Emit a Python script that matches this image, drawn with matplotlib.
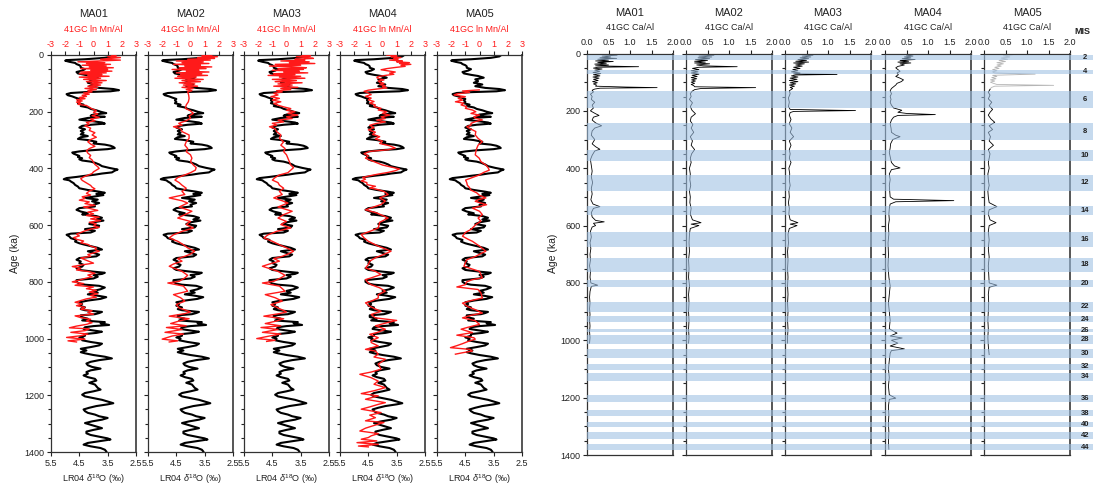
import matplotlib
matplotlib.use('Agg')
import matplotlib.pyplot as plt
from matplotlib.ticker import MultipleLocator

plt.rcParams['font.family'] = ['Liberation Sans', 'DejaVu Sans']
plt.rcParams['mathtext.fontset'] = 'custom'
plt.rcParams['mathtext.rm'] = 'Liberation Sans'
plt.rcParams['mathtext.it'] = 'Liberation Sans:italic'
plt.rcParams['axes.unicode_minus'] = False

cores = ['MA01', 'MA02', 'MA03', 'MA04', 'MA05']

# LR04 benthic stack (age ka, d18O permil)
lr04_age = [0, 5, 10, 15, 18, 20, 24, 28, 32, 36, 40, 45, 50, 55, 60, 65, 70, 74, 80, 86,
            92, 98, 104, 110, 116, 120, 124, 128, 131, 134, 138, 142, 146, 150, 155, 160, 165, 170, 175, 180,
            185, 190, 195, 200, 205, 210, 214, 218, 222, 228, 234, 238, 242, 246, 250, 256, 262, 268, 274, 280,
            286, 290, 296, 300, 306, 312, 316, 320, 324, 328, 332, 336, 340, 344, 348, 352, 356, 360, 364, 368,
            372, 376, 380, 386, 392, 398, 404, 408, 414, 418, 422, 426, 430, 434, 438, 442, 446, 452, 458, 464,
            470, 476, 482, 486, 490, 494, 498, 504, 510, 516, 522, 528, 534, 540, 546, 552, 558, 562, 568, 574,
            580, 584, 590, 596, 602, 608, 614, 620, 626, 630, 634, 640, 646, 652, 658, 664, 668, 674, 680, 686,
            692, 698, 704, 710, 716, 722, 728, 734, 740, 746, 752, 758, 764, 768, 772, 776, 782, 788, 794, 800,
            806, 810, 814, 820, 826, 832, 838, 844, 848, 854, 860, 866, 872, 878, 884, 890, 896, 900, 906, 910,
            914, 918, 924, 930, 936, 942, 946, 952, 956, 960, 966, 970, 976, 980, 984, 990, 996, 1000, 1006, 1012,
            1018, 1024, 1030, 1036, 1042, 1048, 1052, 1058, 1064, 1070, 1076, 1082, 1088, 1094, 1100, 1106, 1112, 1118, 1124, 1130,
            1136, 1142, 1148, 1156, 1162, 1168, 1174, 1180, 1186, 1192, 1198, 1204, 1210, 1216, 1222, 1228, 1232, 1238, 1244, 1250,
            1256, 1262, 1268, 1274, 1280, 1286, 1292, 1298, 1304, 1310, 1316, 1322, 1328, 1334, 1340, 1346, 1352, 1356, 1362, 1368,
            1374, 1380, 1386, 1392, 1398]
lr04_d18o = [3.23, 3.3, 3.6, 4.3, 4.95, 5.0, 4.85, 4.65, 4.6, 4.5, 4.45, 4.45, 4.3, 4.4, 4.6, 4.55, 4.3, 4.05, 3.85, 4.15,
             4.05, 4.2, 3.9, 4.15, 3.8, 3.3, 3.1, 3.4, 4.3, 4.8, 4.95, 4.9, 4.75, 4.65, 4.5, 4.55, 4.5, 4.55, 4.35, 4.45,
             4.2, 4.1, 3.9, 3.75, 3.55, 4.0, 4.1, 3.6, 4.2, 4.5, 4.0, 3.7, 3.6, 4.1, 4.4, 4.5, 4.3, 4.45, 4.35, 4.45,
             4.2, 4.45, 4.55, 4.2, 3.9, 4.0, 3.6, 3.4, 3.3, 3.25, 3.5, 4.1, 4.5, 4.75, 4.7, 4.6, 4.5, 4.55, 4.4, 4.5,
             4.4, 4.1, 3.95, 3.8, 3.7, 3.45, 3.15, 3.25, 3.35, 3.7, 3.95, 4.3, 4.6, 4.95, 5.05, 4.85, 4.8, 4.7, 4.65, 4.55,
             4.5, 4.2, 3.8, 3.6, 3.9, 3.65, 3.9, 4.3, 3.85, 4.05, 3.8, 4.0, 3.95, 4.5, 4.6, 4.45, 4.2, 4.4, 3.9, 3.7,
             3.9, 3.65, 4.0, 4.15, 3.8, 3.85, 4.3, 3.95, 4.1, 4.8, 4.95, 4.85, 4.8, 4.6, 4.65, 4.5, 4.35, 4.1, 3.85, 3.7,
             4.2, 4.0, 3.8, 3.9, 4.5, 4.6, 4.45, 4.5, 4.35, 4.4, 4.6, 4.5, 4.0, 3.6, 3.7, 4.0, 3.85, 4.0, 4.6, 4.6,
             4.5, 4.3, 3.8, 3.6, 3.75, 4.0, 3.85, 4.2, 3.9, 3.55, 3.75, 4.2, 4.5, 4.4, 4.5, 4.3, 4.45, 4.3, 3.7, 3.8,
             3.95, 4.45, 4.45, 4.2, 4.4, 3.6, 3.75, 3.45, 4.0, 4.3, 4.35, 4.1, 3.7, 3.9, 4.3, 4.3, 4.5, 4.35, 4.4, 4.1,
             3.7, 3.8, 4.1, 4.45, 4.25, 4.45, 4.3, 4.0, 3.6, 3.35, 3.8, 4.1, 4.25, 4.2, 4.05, 3.75, 4.1, 4.25, 4.2, 4.35,
             4.2, 3.95, 3.9, 4.15, 3.95, 3.9, 3.85, 3.75, 4.0, 4.3, 4.4, 4.3, 4.0, 3.7, 3.5, 3.3, 3.5, 3.9, 4.15, 4.35,
             4.3, 4.2, 3.95, 3.8, 3.5, 3.7, 4.05, 4.3, 4.1, 3.9, 3.7, 4.0, 4.25, 4.25, 4.1, 3.8, 3.5, 3.4, 3.8, 4.2,
             4.35, 4.1, 3.75, 3.6, 3.55]

# 41GC ln Mn/Al
ma01_mn_age = [0, 3, 6, 9, 12, 15, 18, 21, 24, 27, 30, 33, 36, 39, 42, 45, 48, 51, 54, 57,
               60, 63, 66, 69, 72, 75, 78, 82, 86, 90, 94, 98, 102, 106, 110, 114, 118, 122, 126, 130,
               134, 138, 142, 146, 150, 154, 158, 162, 166, 170, 174, 178, 184, 190, 196, 202, 208, 214, 220, 226,
               232, 238, 244, 250, 258, 266, 274, 282, 290, 298, 306, 314, 322, 330, 338, 346, 354, 362, 370, 378,
               386, 394, 400, 406, 412, 418, 424, 430, 436, 442, 448, 454, 460, 466, 472, 480, 488, 494, 500, 506,
               512, 518, 524, 530, 536, 542, 548, 554, 560, 566, 572, 578, 584, 590, 596, 602, 608, 614, 620, 626,
               632, 638, 644, 650, 656, 662, 668, 674, 680, 686, 692, 698, 704, 710, 716, 722, 728, 734, 740, 746,
               752, 758, 764, 770, 776, 782, 788, 794, 800, 806, 812, 818, 824, 830, 836, 842, 848, 854, 860, 866,
               872, 878, 884, 890, 896, 902, 908, 914, 920, 926, 932, 938, 944, 950, 956, 962, 966, 972, 978, 984,
               990, 996, 1002, 1008, 1012]
ma01_mn = [1.3, 1.6, 1.0, 1.9, 1.2, 0.5, 1.9, 0.3, -1.1, 0.8, -0.5, 1.2, -0.8, 0.9, -0.3, 1.4, -0.9, 1.0, -0.2, 1.3,
           -0.9, 0.9, -1.0, 0.6, -0.4, 1.1, -1.0, 0.5, -0.7, 0.9, -0.5, 0.6, -0.2, 0.5, -0.4, 0.3, -0.6, 0.2, -0.4, -0.1,
           -0.7, -0.3, -0.8, -0.5, -1.0, -0.6, -1.2, -0.8, -1.2, -0.9, -1.1, -0.5, -0.3, -0.1, 0.2, 0.0, 0.3, -0.1, 0.4, -0.2,
           0.1, -0.5, -0.3, -0.6, -0.2, -0.3, 0.1, -0.1, 0.2, -0.2, -0.4, -0.2, 0.1, -0.3, -0.5, -0.4, -0.2, -0.3, -0.1, 0.0,
           0.1, 0.3, 0.4, 0.2, 0.0, -0.1, -0.4, -0.7, -0.9, -0.8, -0.6, -0.4, -0.2, -0.1, 0.1, -0.3, -0.5, -0.2, -0.8, -0.6,
           -1.0, -0.3, -0.6, 0.1, -0.7, -0.2, 0.3, -0.4, 0.0, -0.5, 0.4, -0.2, 0.5, -0.3, 0.2, 0.0, 0.4, -0.2, -0.6, -0.9,
           -1.2, -1.0, -1.4, -1.2, -0.7, -0.9, -0.4, -0.2, 0.2, 0.1, 0.4, 0.0, -0.4, -0.2, -0.9, -0.6, -0.3, 0.0, -0.8, -1.5,
           -0.9, -1.2, -0.3, 0.1, -0.4, -0.1, -0.6, -1.0, -1.5, -0.7, -1.3, 0.0, -0.5, 0.2, -0.3, 0.3, -0.2, 0.2, -0.5, -0.9,
           -1.3, -0.8, -1.2, -0.6, -0.9, -0.1, -0.4, 0.0, -1.3, -0.9, -0.2, -0.5, -0.1, -0.5, -1.2, -1.7, -0.3, -0.6, -1.6, -0.4,
           -0.9, -1.9, -0.6, -1.8, -1.2]

ma02_mn_age = [0, 3, 6, 9, 12, 15, 18, 21, 24, 27, 30, 33, 36, 39, 42, 45, 48, 51, 54, 57,
               60, 63, 66, 69, 72, 75, 78, 82, 86, 90, 94, 98, 102, 106, 110, 114, 118, 122, 126, 130,
               141, 153, 165, 176, 188, 197, 206, 215, 223, 232, 241, 247, 253, 260, 270, 282, 294, 306, 318, 330,
               341, 352, 364, 376, 388, 397, 406, 415, 423, 432, 441, 450, 459, 470, 481, 492, 504, 514, 522, 536,
               551, 563, 575, 587, 598, 610, 622, 634, 645, 657, 669, 680, 692, 702, 710, 718, 727, 737, 745, 755,
               763, 777, 786, 798, 804, 815, 833, 845, 856, 868, 880, 892, 906, 912, 921, 930, 938, 947, 955, 961,
               968, 978, 984, 991, 1002, 1008, 1012]
ma02_mn = [1.5, 0.8, 1.9, 0.5, 1.7, -0.2, 1.4, -1.0, 0.9, -0.6, 1.3, -1.2, 0.7, -0.4, 1.5, -0.8, 1.1, -1.3, 0.6, -0.3,
           1.3, -1.0, 0.8, -0.7, 1.2, -0.9, 0.4, -1.1, 0.9, -0.6, 0.7, -0.8, 0.3, -0.5, 0.5, -0.6, 0.2, -0.3, 0.1, -0.2,
           -0.13, -0.1, -0.15, -0.3, -0.36, 0.0, 0.2, -0.1, 0.0, -0.3, -0.83, -0.6, -1.2, -0.7, -0.6, -0.1, -0.1, -0.3, -0.4, -0.2,
           -0.3, 0.0, 0.1, 0.0, 0.2, 0.4, 0.34, 0.0, -0.4, -0.9, -1.1, -0.8, -0.6, -0.3, -0.6, -0.4, -1.5, -0.6, -0.2, -0.8,
           0.1, -0.4, -0.9, 0.0, -0.3, 0.2, -0.6, -1.2, -1.5, -0.9, -0.5, -0.2, 0.3, 0.0, -0.4, -0.9, -0.6, -1.2, -1.5, -1.0,
           -0.6, -0.2, -0.4, -0.8, -1.6, -0.5, -0.2, -1.2, -0.7, -0.4, -1.0, -0.8, 0.0, -0.4, -1.5, -0.1, -0.8, -1.4, -0.3, -1.7,
           -0.6, -1.8, -0.5, -1.3, -2.0, -0.9, -1.5]

ma03_mn_age = [0, 3, 6, 9, 12, 15, 18, 21, 24, 27, 30, 33, 36, 39, 42, 45, 48, 51, 54, 57,
               60, 63, 66, 69, 72, 75, 78, 82, 86, 90, 94, 98, 102, 106, 110, 114, 118, 122, 126, 130,
               135, 141, 147, 153, 159, 165, 171, 177, 183, 189, 195, 200, 206, 212, 218, 224, 230, 236, 241, 247,
               253, 260, 270, 282, 294, 306, 318, 330, 341, 352, 364, 376, 388, 397, 406, 415, 423, 432, 441, 450,
               459, 470, 481, 492, 504, 514, 522, 536, 551, 563, 575, 587, 598, 610, 622, 634, 645, 657, 669, 680,
               692, 702, 710, 718, 727, 737, 745, 755, 763, 777, 786, 798, 804, 815, 833, 845, 856, 868, 880, 892,
               906, 912, 921, 930, 938, 947, 955, 961, 968, 978, 984, 991, 1000, 1006, 1010]
ma03_mn = [1.1, 1.7, 0.7, 1.4, 1.9, 0.6, 1.3, -0.4, 1.6, 0.2, 2.0, -0.8, 1.0, -1.2, 0.5, 1.4, -0.6, 1.2, -1.0, 0.9,
           -0.2, 1.5, -0.9, 0.6, -1.3, 1.0, -0.5, 1.3, -1.0, 0.7, -0.8, 1.1, -0.6, 0.4, -0.9, 0.8, -0.4, 0.3, -0.7, -0.3,
           -0.9, -0.6, -1.1, -0.5, -1.0, -0.4, -0.9, -0.6, -0.2, 0.3, 0.0, 0.6, 0.1, 0.8, 0.0, 0.4, -0.6, -0.2, -1.0, -0.7,
           -1.2, -0.8, -0.7, -0.4, -0.5, -0.2, -0.4, -0.1, -0.2, 0.0, 0.1, 0.2, 0.3, 0.5, 0.3, 0.1, -0.5, -0.8, -1.0, -0.6,
           -0.5, -0.2, -0.5, -0.3, -0.9, -0.3, 0.1, -0.6, 0.4, -0.2, -0.6, 0.0, -0.4, 0.3, -0.7, -1.3, -1.6, -1.0, -0.5, 0.0,
           0.5, 0.1, -0.3, -0.9, -0.5, -1.2, -1.7, -1.1, -0.6, -0.1, -0.4, -0.9, -1.7, -0.5, -0.1, -1.5, -0.8, -0.3, -1.1, -0.6,
           0.0, -0.5, -1.6, -0.2, -0.7, -1.5, -0.4, -1.8, -0.6, -1.7, -0.4, -1.2, -2.1, -0.8, -1.4]

ma04_mn_age = [0, 3, 6, 9, 12, 15, 18, 21, 24, 27, 30, 33, 36, 40, 44, 48, 52, 56, 60, 64,
               68, 72, 76, 80, 84, 88, 92, 96, 100, 104, 108, 112, 116, 120, 124, 128, 134, 140, 146, 152,
               158, 164, 170, 176, 182, 188, 194, 200, 206, 212, 218, 224, 230, 236, 242, 248, 256, 264, 272, 280,
               288, 296, 304, 312, 320, 328, 334, 340, 348, 356, 364, 372, 380, 388, 396, 402, 408, 414, 420, 426,
               432, 438, 444, 450, 457, 463, 469, 475, 481, 492, 504, 515, 527, 539, 546, 557, 575, 590, 610, 622,
               633, 645, 657, 674, 686, 692, 703, 715, 727, 739, 751, 763, 774, 786, 792, 804, 810, 821, 833, 845,
               857, 868, 874, 886, 898, 904, 915, 927, 936, 943, 955, 967, 979, 985, 997, 1008, 1014, 1026, 1038, 1044,
               1055, 1065, 1073, 1090, 1108, 1118, 1126, 1138, 1150, 1161, 1173, 1184, 1194, 1202, 1214, 1226, 1232, 1241, 1249, 1261,
               1270, 1279, 1290, 1296, 1308, 1316, 1326, 1335, 1343, 1349, 1355, 1361, 1367, 1373, 1379, 1382]
ma04_mn = [0.3, 1.0, 0.6, 1.3, 0.8, 1.1, 0.5, 1.4, 1.0, 1.9, 1.2, 2.0, 1.3, 1.6, 0.9, 0.3, -0.1, 0.4, 0.9, 0.5,
           0.8, 0.2, -0.3, -0.4, -0.2, 0.1, -0.3, -0.2, 0.1, -0.2, 0.2, 0.0, 0.3, -0.4, -1.0, -1.3, -1.0, -0.8, -1.2, -0.8,
           -1.0, -0.6, -0.9, -0.5, -0.6, -0.1, -0.3, 0.3, 0.0, 0.5, -0.1, 0.2, -0.4, 0.2, -0.5, -0.9, -0.6, -1.0, -0.5, -0.7,
           -0.2, -0.5, 0.0, -0.2, 0.5, 0.9, 0.4, -0.9, -1.3, -1.0, -1.2, -0.8, -0.4, 0.0, 0.7, 1.2, 0.9, 0.4, -0.3, -0.9,
           -1.4, -1.2, -1.5, -1.1, -1.1, -0.5, -0.9, -0.3, 0.1, 0.4, -0.2, 0.2, -0.1, -0.8, -1.2, -0.4, 0.4, -0.2, -0.3, -0.9,
           -1.5, -1.3, -1.0, -0.3, 0.3, 0.6, 0.1, -0.5, -0.9, -1.0, -1.2, -0.5, -0.1, -0.8, -1.2, -1.0, -0.8, -0.2, 0.2, -0.3,
           -0.3, -0.8, -1.2, -0.9, -0.4, -0.1, -0.8, -0.5, 1.0, 0.4, -0.5, 0.2, -0.4, -0.9, -0.3, -0.8, -0.8, -0.3, -1.2, -0.5,
           -0.3, -0.6, 0.2, -0.3, -0.1, -0.8, -1.6, -0.8, -0.3, -0.6, 0.2, -0.6, -1.5, -0.3, -1.2, 0.2, -0.3, -0.9, -1.5, -0.1,
           -0.9, -0.5, -1.2, 0.1, -0.7, -1.2, -1.6, -0.3, -0.8, -1.0, -1.5, -0.4, -1.8, -0.3, -1.7, -1.0]

ma05_mn_age = [123, 127, 132, 137, 141, 147, 153, 159, 165, 170, 176, 182, 188, 194, 200, 206, 212, 218, 223, 229,
               235, 241, 247, 253, 259, 270, 282, 294, 306, 318, 330, 341, 352, 364, 376, 388, 397, 406, 414, 423,
               432, 441, 450, 459, 468, 476, 486, 495, 504, 510, 516, 528, 540, 551, 563, 575, 586, 598, 615, 626,
               639, 650, 657, 674, 686, 692, 700, 710, 722, 733, 745, 755, 763, 775, 786, 792, 800, 810, 818, 827,
               839, 857, 866, 875, 888, 898, 910, 918, 927, 937, 950, 960, 967, 979, 988, 997, 1002, 1010, 1018, 1025,
               1032, 1038, 1044, 1050, 1055]
ma05_mn = [-0.02, -1.2, -0.7, -1.6, -1.8, -1.0, -1.5, -1.2, -1.7, -1.1, -1.3, -0.9, -1.0, -0.5, -0.26, -0.6, 0.0, -0.4, -0.3, 0.2,
           -0.3, -0.6, -0.6, -0.9, -0.7, -0.26, -0.3, -0.1, 0.2, -0.1, -0.2, -0.26, -0.3, -0.02, 0.1, 0.45, 0.6, 0.69, 0.3, -0.02,
           -0.5, -0.98, -0.9, -0.86, -0.7, -0.62, -0.2, 0.0, 0.45, -0.1, -0.3, 0.5, -0.5, 0.0, 0.2, -0.1, 0.1, -0.26, -0.6, -1.0,
           -1.2, -0.8, -0.5, 0.0, 0.3, 0.45, 0.1, -0.26, -0.9, -1.0, -1.1, -0.5, 0.0, 0.1, 0.2, -0.5, -0.9, -1.0, -1.6, -0.1,
           0.1, 0.2, -0.6, -1.2, -0.8, -0.3, 0.2, -0.6, -1.2, -0.3, 0.0, -0.8, -1.3, -0.5, -1.6, -0.4, -0.3, -0.8, -1.2, -1.6,
           -2.05, -0.7, -0.5, -1.2, -1.7]

# 41GC Ca/Al
ma01_ca_age = [0, 3, 6, 9, 12, 15, 17, 20, 23, 26, 28, 31, 34, 37, 40, 43, 46, 48, 51, 54,
               58, 62, 66, 70, 74, 78, 82, 86, 90, 94, 98, 102, 106, 110, 114, 117, 119, 121, 124, 128,
               134, 142, 150, 160, 170, 180, 190, 200, 210, 216, 222, 232, 242, 252, 260, 270, 285, 300, 315, 325,
               334, 340, 355, 370, 390, 410, 430, 450, 470, 490, 510, 525, 534, 540, 555, 570, 582, 587, 592, 600,
               605, 620, 640, 660, 680, 700, 720, 740, 760, 780, 800, 808, 812, 830, 850, 870, 890, 910, 930, 950,
               970, 990, 1010]
ma01_ca = [0.6, 0.45, 0.7, 0.35, 0.55, 0.3, 0.69, 0.25, 0.5, 0.2, 0.61, 0.25, 0.45, 0.18, 0.5, 0.2, 1.2, 0.25, 0.15, 0.35,
           0.18, 0.3, 0.14, 0.32, 0.15, 0.3, 0.14, 0.28, 0.15, 0.26, 0.13, 0.24, 0.15, 0.22, 0.2, 0.9, 1.63, 0.3, 0.18, 0.12,
           0.15, 0.08, 0.12, 0.1, 0.18, 0.12, 0.15, 0.08, 0.2, 0.28, 0.15, 0.12, 0.2, 0.34, 0.18, 0.12, 0.1, 0.18, 0.12, 0.2,
           0.3, 0.18, 0.12, 0.08, 0.1, 0.12, 0.1, 0.13, 0.1, 0.12, 0.09, 0.14, 0.3, 0.15, 0.1, 0.12, 0.2, 0.4, 0.15, 0.2,
           0.12, 0.08, 0.1, 0.07, 0.09, 0.07, 0.08, 0.06, 0.08, 0.07, 0.09, 0.25, 0.1, 0.07, 0.06, 0.07, 0.06, 0.07, 0.06, 0.07,
           0.06, 0.07, 0.06]

ma02_ca_age = [0, 3, 6, 9, 12, 15, 18, 21, 24, 27, 30, 33, 36, 40, 43, 46, 48, 52, 56, 60,
               64, 68, 72, 76, 80, 84, 88, 92, 96, 100, 104, 108, 112, 116, 119, 122, 126, 132, 140, 150,
               160, 172, 185, 198, 210, 222, 235, 248, 260, 275, 290, 305, 320, 335, 350, 365, 380, 400, 420, 440,
               460, 480, 500, 520, 540, 560, 580, 590, 595, 600, 610, 630, 660, 690, 720, 750, 780, 810, 840, 870,
               900, 930, 960, 990, 1010]
ma02_ca = [0.55, 0.4, 0.65, 0.3, 0.6, 0.28, 0.55, 0.22, 0.5, 0.2, 0.45, 0.2, 0.55, 0.25, 0.4, 1.19, 0.3, 0.15, 0.3, 0.12,
           0.28, 0.12, 0.3, 0.14, 0.26, 0.12, 0.25, 0.13, 0.22, 0.12, 0.2, 0.12, 0.18, 0.2, 1.62, 0.35, 0.2, 0.14, 0.1, 0.12,
           0.08, 0.15, 0.1, 0.14, 0.22, 0.12, 0.1, 0.16, 0.12, 0.18, 0.1, 0.15, 0.12, 0.2, 0.13, 0.1, 0.12, 0.08, 0.1, 0.09,
           0.11, 0.08, 0.1, 0.09, 0.12, 0.1, 0.15, 0.35, 0.12, 0.3, 0.1, 0.08, 0.07, 0.08, 0.06, 0.07, 0.06, 0.08, 0.06, 0.07,
           0.06, 0.07, 0.06, 0.07, 0.06]

ma03_ca_age = [0, 3, 6, 9, 12, 15, 18, 21, 24, 27, 30, 33, 36, 40, 44, 48, 52, 56, 60, 64,
               68, 71, 73, 75, 78, 82, 86, 90, 94, 98, 102, 106, 110, 114, 118, 122, 130, 140, 155, 170,
               185, 195, 199, 202, 206, 215, 230, 245, 260, 275, 290, 305, 320, 335, 350, 365, 380, 400, 420, 440,
               460, 480, 500, 520, 540, 560, 580, 590, 595, 600, 610, 630, 660, 690, 720, 750, 780, 810, 840, 870,
               900, 930, 960, 990, 1010]
ma03_ca = [0.7, 0.5, 0.65, 0.4, 0.6, 0.35, 0.55, 0.3, 0.5, 0.25, 0.55, 0.2, 0.45, 0.25, 0.4, 0.2, 0.35, 0.18, 0.3, 0.15,
           0.35, 0.2, 1.21, 0.25, 0.15, 0.3, 0.12, 0.28, 0.1, 0.3, 0.12, 0.25, 0.1, 0.22, 0.12, 0.18, 0.1, 0.12, 0.08, 0.1,
           0.08, 0.12, 1.64, 0.2, 0.12, 0.1, 0.14, 0.1, 0.16, 0.12, 0.2, 0.1, 0.14, 0.1, 0.12, 0.1, 0.14, 0.09, 0.11, 0.1,
           0.12, 0.09, 0.1, 0.08, 0.1, 0.09, 0.12, 0.3, 0.12, 0.28, 0.1, 0.07, 0.08, 0.06, 0.07, 0.06, 0.07, 0.06, 0.07, 0.06,
           0.07, 0.06, 0.07, 0.06, 0.06]

ma04_ca_age = [0, 3, 6, 9, 12, 15, 18, 21, 24, 27, 30, 33, 36, 40, 45, 50, 56, 62, 68, 74,
               80, 86, 92, 98, 104, 110, 116, 122, 130, 140, 150, 160, 170, 180, 190, 198, 205, 209, 213, 216,
               222, 232, 245, 260, 275, 285, 290, 300, 315, 330, 345, 360, 380, 392, 399, 405, 420, 440, 460, 480,
               500, 508, 513, 517, 525, 540, 560, 580, 600, 630, 660, 700, 740, 780, 810, 840, 870, 900, 930, 960,
               975, 985, 992, 1000, 1010, 1020, 1030, 1036, 1045, 1070, 1100, 1130, 1160, 1190, 1202, 1206, 1230, 1260, 1290, 1320,
               1350, 1380]
ma04_ca = [0.55, 0.74, 0.5, 0.65, 0.45, 0.6, 0.4, 0.7, 0.35, 0.55, 0.3, 0.6, 0.35, 0.45, 0.3, 0.25, 0.3, 0.35, 0.28, 0.31,
           0.25, 0.35, 0.43, 0.38, 0.28, 0.25, 0.2, 0.15, 0.12, 0.15, 0.12, 0.14, 0.12, 0.15, 0.2, 0.39, 0.3, 0.5, 1.17, 0.3,
           0.2, 0.15, 0.12, 0.14, 0.15, 0.25, 0.35, 0.18, 0.13, 0.12, 0.1, 0.12, 0.15, 0.22, 0.35, 0.15, 0.1, 0.12, 0.1, 0.11,
           0.12, 0.2, 1.6, 0.25, 0.12, 0.1, 0.09, 0.1, 0.08, 0.09, 0.07, 0.08, 0.07, 0.09, 0.12, 0.1, 0.08, 0.1, 0.12, 0.1,
           0.28, 0.12, 0.4, 0.15, 0.3, 0.12, 0.45, 0.15, 0.12, 0.1, 0.08, 0.1, 0.08, 0.1, 0.25, 0.1, 0.08, 0.09, 0.08, 0.09,
           0.08, 0.09]

ma05_ca_top_age = [0, 4, 8, 12, 16, 20, 24, 28, 32, 36, 40, 44, 48, 52, 56, 60, 64, 68, 72, 76,
                   80, 84, 88, 92, 96, 100, 104, 108, 111, 114, 118, 122, 125]
ma05_ca_top = [0.55, 0.68, 0.45, 0.6, 0.4, 0.55, 0.35, 0.5, 0.3, 0.45, 0.3, 0.4, 0.25, 0.35, 0.2, 0.3, 0.2, 0.25, 1.19, 0.2,
               0.3, 0.18, 0.28, 0.15, 0.25, 0.15, 0.22, 0.3, 1.62, 0.25, 0.18, 0.15, 0.14]
ma05_ca_age = [125, 135, 145, 158, 170, 182, 195, 205, 215, 228, 240, 252, 265, 275, 290, 305, 320, 335, 350, 365,
               380, 400, 420, 440, 460, 480, 500, 520, 534, 545, 560, 580, 590, 600, 620, 650, 680, 710, 740, 770,
               800, 808, 815, 840, 870, 900, 930, 960, 990, 1020, 1050]
ma05_ca = [0.14, 0.1, 0.14, 0.1, 0.18, 0.12, 0.2, 0.14, 0.1, 0.16, 0.25, 0.12, 0.2, 0.1, 0.15, 0.12, 0.22, 0.1, 0.14, 0.12,
           0.1, 0.12, 0.09, 0.1, 0.12, 0.09, 0.1, 0.12, 0.3, 0.12, 0.1, 0.14, 0.28, 0.12, 0.1, 0.12, 0.1, 0.12, 0.1, 0.11,
           0.12, 0.3, 0.12, 0.1, 0.11, 0.1, 0.09, 0.1, 0.09, 0.1, 0.12]

mn_ages = [ma01_mn_age, ma02_mn_age, ma03_mn_age, ma04_mn_age, ma05_mn_age]
mn_vals = [ma01_mn, ma02_mn, ma03_mn, ma04_mn, ma05_mn]
ca_ages = [ma01_ca_age, ma02_ca_age, ma03_ca_age, ma04_ca_age, ma05_ca_age]
ca_vals = [ma01_ca, ma02_ca, ma03_ca, ma04_ca, ma05_ca]

# glacial marine isotope stages (ka)
mis_num = [2, 4, 6, 8, 10, 12, 14, 16, 18, 20, 22, 24, 26, 28, 30, 32, 34, 36, 38, 40, 42, 44]
mis_start = [6, 57, 130, 243, 337, 424, 533, 621, 712, 790, 866, 917, 959, 982, 1031, 1081, 1114, 1190, 1244, 1286, 1320, 1362]
mis_end = [24, 71, 191, 300, 374, 478, 563, 676, 761, 814, 900, 936, 970, 1014, 1062, 1104, 1141, 1215, 1264, 1304, 1343, 1383]

W, H = 1093, 487
fig = plt.figure(figsize=(W / 100, H / 100), dpi=100)


def box(x0, y0, w, y1):
    return [x0 / W, 1 - y1 / H, w / W, (y1 - y0) / H]


tick_c = '#222222'
spine_c = '#333333'
red = '#ff1a1a'

left_x = [51, 148, 244, 340, 437]
right_x = [587, 686, 785, 885, 984]

# left group: LR04 vs ln Mn/Al
for i, name in enumerate(cores):
    ax = fig.add_axes(box(left_x[i], 55, 85, 452))
    ax.plot(lr04_d18o, lr04_age, color='black', lw=1.5, zorder=2)
    ax.set_xlim(5.5, 2.5)
    ax.set_ylim(1400, 0)
    ax.set_xticks([5.5, 4.5, 3.5, 2.5])
    ax.set_xticklabels(['5.5', '4.5', '3.5', '2.5'])
    ax.yaxis.set_major_locator(MultipleLocator(200))
    ax.yaxis.set_minor_locator(MultipleLocator(50))
    ax.tick_params(axis='both', labelsize=6.5, colors=tick_c, width=0.8, length=3, pad=2)
    ax.tick_params(axis='y', which='minor', length=2, width=0.8, colors=tick_c)
    if i > 0:
        ax.tick_params(axis='y', labelleft=False)
    ax.set_xlabel(r'LR04 $\delta^{18}$O (‰)', fontsize=6.5, color=tick_c, labelpad=3)
    for s in ax.spines.values():
        s.set_color(spine_c)
        s.set_linewidth(0.9)
    ax.spines['right'].set_linewidth(1.4)
    ax.spines['right'].set_color('#555555')

    tw = ax.twiny()
    tw.plot(mn_vals[i], mn_ages[i], color=red, lw=1.0, zorder=3)
    tw.set_xlim(-3, 3)
    tw.set_ylim(1400, 0)
    tw.set_xticks([-3, -2, -1, 0, 1, 2, 3])
    tw.tick_params(axis='x', labelsize=6.5, labelcolor=red, colors=tick_c, width=0.8, length=3, pad=1.5)
    for s in tw.spines.values():
        s.set_visible(False)

    cx = (left_x[i] + 42.5) / W
    fig.text(cx, 1 - 14 / H, name, ha='center', va='center', fontsize=8, color='#222222')
    fig.text(cx, 1 - 30 / H, '41GC ln Mn/Al', ha='center', va='center', fontsize=6.5, color=red)

fig.text(15 / W, 1 - 253 / H, 'Age (ka)', rotation=90, ha='center', va='center', fontsize=7.5, color=tick_c)

# right group: Ca/Al
for i, name in enumerate(cores):
    ax = fig.add_axes(box(right_x[i], 53.5, 86, 455))
    if i == 4:
        ax.plot(ma05_ca_top, ma05_ca_top_age, color='#b5b5b5', lw=0.6)
    ax.plot(ca_vals[i], ca_ages[i], color='black', lw=0.6)
    ax.set_xlim(0, 2)
    ax.set_ylim(1400, 0)
    ax.xaxis.tick_top()
    ax.set_xticks([0, 0.5, 1.0, 1.5, 2.0])
    ax.set_xticklabels(['0.0', '0.5', '1.0', '1.5', '2.0'])
    ax.yaxis.set_major_locator(MultipleLocator(200))
    ax.yaxis.set_minor_locator(MultipleLocator(50))
    ax.tick_params(axis='both', labelsize=6.5, colors=tick_c, width=0.8, length=3, pad=1.5)
    ax.tick_params(axis='y', which='minor', length=2, width=0.8, colors=tick_c)
    if i > 0:
        ax.tick_params(axis='y', labelleft=False)
    for s in ax.spines.values():
        s.set_color(spine_c)
        s.set_linewidth(0.9)
    ax.spines['right'].set_linewidth(1.4)
    ax.spines['right'].set_color('#555555')

    cx = (right_x[i] + 43) / W
    fig.text(cx, 1 - 13 / H, name, ha='center', va='center', fontsize=8, color='#222222')
    fig.text(cx, 1 - 27 / H, '41GC Ca/Al', ha='center', va='center', fontsize=6.5, color='#222222')

fig.text(553 / W, 1 - 253 / H, 'Age (ka)', rotation=90, ha='center', va='center', fontsize=7.5, color=tick_c)

# glacial bands over the right group
bax = fig.add_axes(box(587, 53.5, W - 587, 455), zorder=5)
bax.patch.set_alpha(0)
bax.axis('off')
bax.set_xlim(0, 1)
bax.set_ylim(1400, 0)
for s, e, n in zip(mis_start, mis_end, mis_num):
    bax.axhspan(s, e, color='#9ec0e3', alpha=0.58, lw=0)
    bax.text((1085 - 587) / (W - 587), (s + e) / 2, str(n), ha='center', va='center',
             fontsize=5.5, fontweight='bold', color='#222222')
fig.text(1082 / W, 1 - 32 / H, 'MIS', ha='center', va='center', fontsize=6.5, fontweight='bold', color='#222222')

fig.savefig('out.png', dpi=100)
